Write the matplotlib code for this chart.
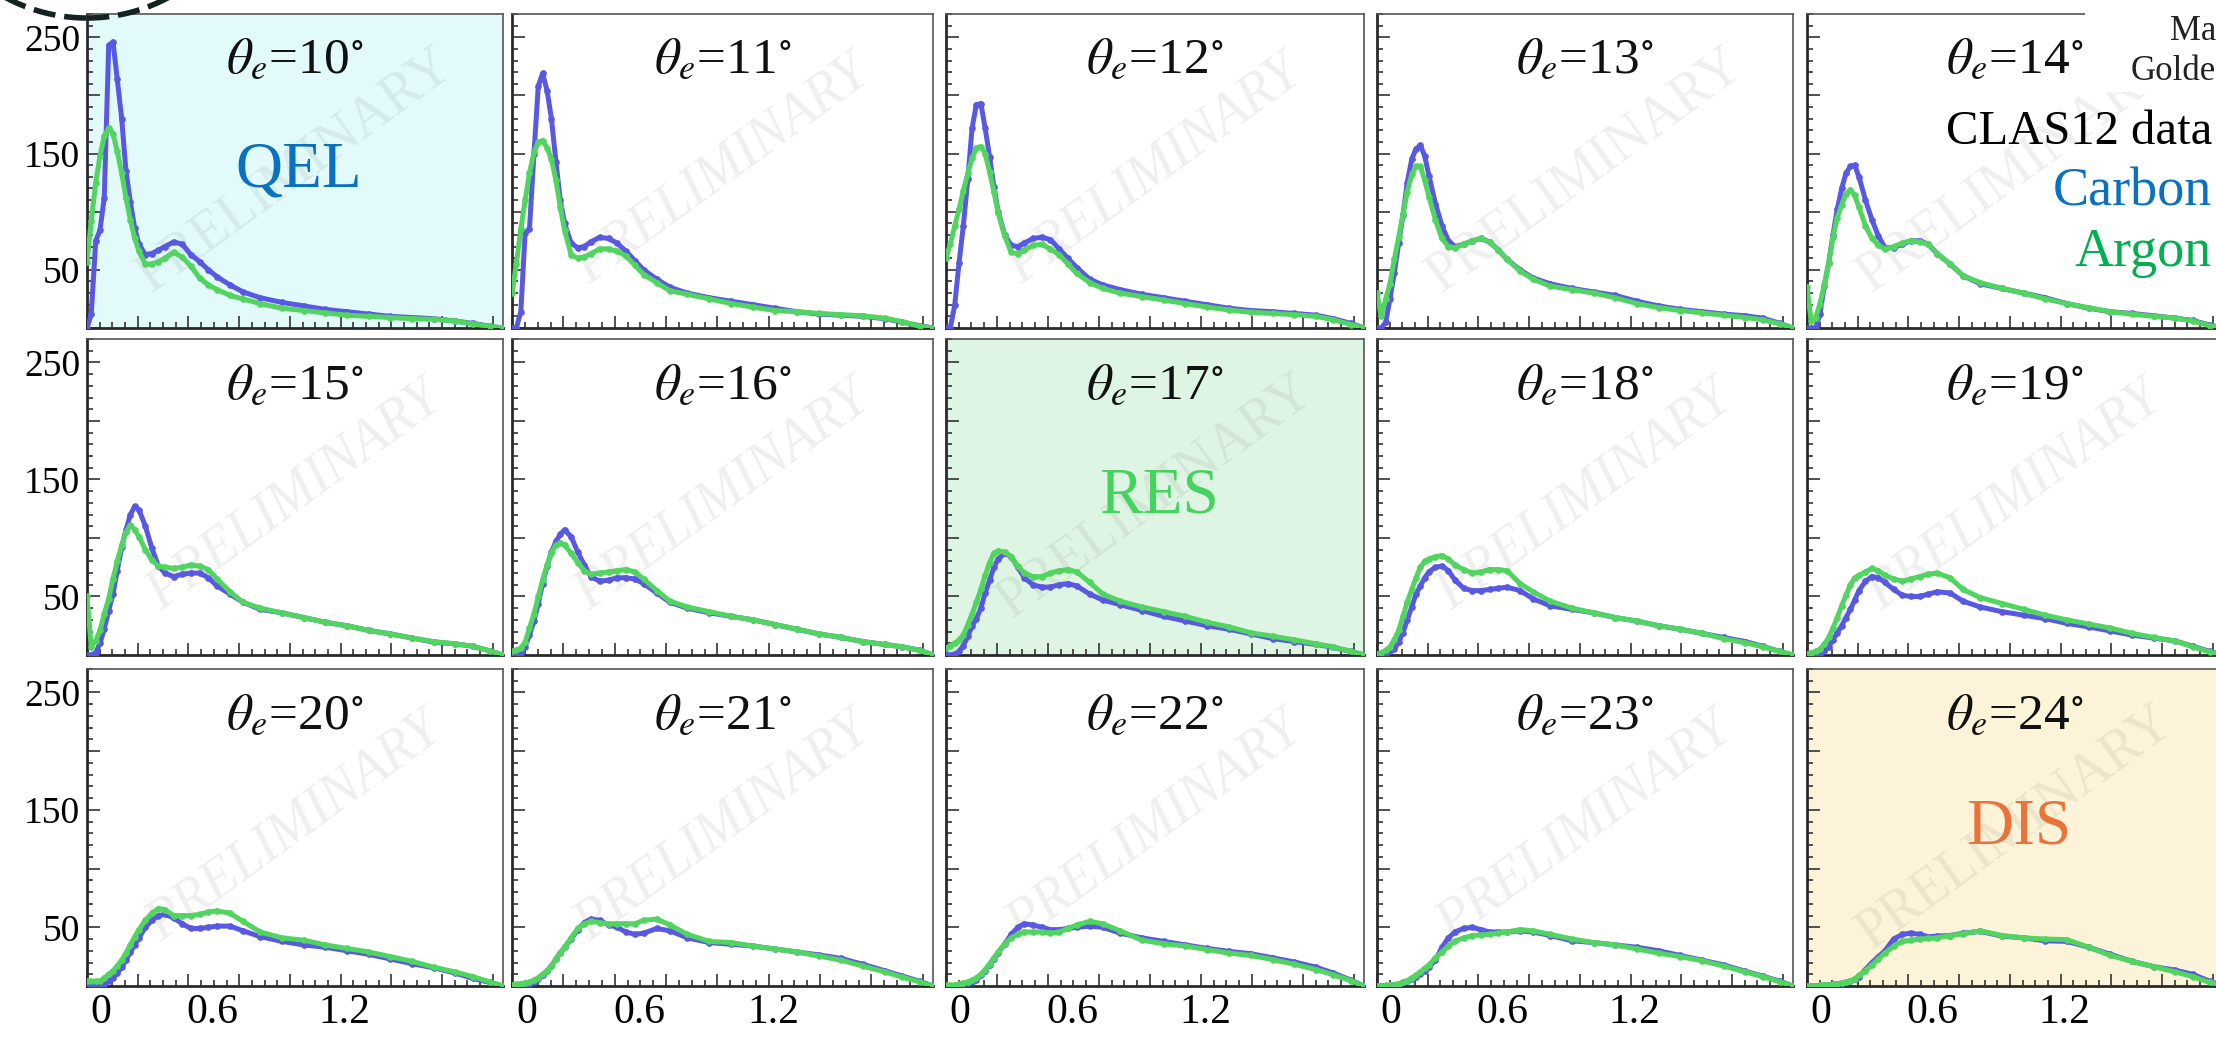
import matplotlib
matplotlib.use("Agg")
import matplotlib.pyplot as plt
import matplotlib.transforms as mtransforms
from matplotlib.patches import Ellipse, Rectangle
from matplotlib.ticker import MultipleLocator

plt.rcParams['font.family'] = ['Liberation Serif', 'DejaVu Serif']
plt.rcParams['mathtext.fontset'] = 'stix'

# energy transfer grid (GeV), shared by all panels
X = [0.0, 0.021, 0.043, 0.064, 0.085, 0.107, 0.128, 0.149, 0.171, 0.192, 0.214, 0.235, 0.256,
     0.288, 0.320, 0.352, 0.384, 0.427, 0.470, 0.512, 0.555, 0.598, 0.641, 0.705, 0.769, 0.854,
     0.961, 1.068, 1.174, 1.281, 1.388, 1.495, 1.602, 1.708, 1.815, 1.900, 1.986, 2.050]

ANGLES = [10, 11, 12, 13, 14, 15, 16, 17, 18, 19, 20, 21, 22, 23, 24]

# Carbon (C) and Argon (AR) yields per angle
C10 = [0, 12, 75, 84, 112, 243, 246, 214, 180, 135, 108, 86, 72, 63, 64, 67, 70, 74, 72, 63, 57, 50, 44, 37, 31, 26, 22, 19, 16, 14, 12, 10, 9, 8, 6, 4, 1.5, 0]
AR10 = [57, 92, 125, 148, 165, 172, 167, 152, 133, 112, 93, 77, 66, 55, 55, 57, 60, 65, 61, 53, 43, 37, 33, 28, 25, 21, 17, 15, 13, 11, 10, 9, 8, 7.5, 6, 3.5, 1.5, 0]
C11 = [0, 0, 14, 82, 85, 150, 208, 219, 204, 180, 143, 110, 90, 73, 69, 70, 74, 78, 77, 73, 66, 58, 50, 42, 35, 30, 26, 23, 20, 17, 14, 12, 11, 10, 8, 5, 2, 0]
AR11 = [30, 55, 85, 110, 133, 151, 160, 161, 155, 145, 127, 104, 84, 63, 60, 61, 64, 68, 68, 66, 62, 54, 46, 39, 32, 29, 25, 21, 18, 15, 14, 12.5, 11.5, 10.5, 8.5, 5.5, 1.5, 0]
C12 = [0, 0, 20, 56, 88, 128, 172, 192, 193, 172, 147, 121, 100, 80, 71, 70, 73, 77, 78, 76, 68, 60, 52, 42, 37, 33, 29, 26, 23, 20, 17, 15, 14, 12.5, 11, 8, 4, 0]
AR12 = [60, 72, 88, 102, 118, 133, 146, 155, 156, 150, 134, 117, 99, 79, 65, 64, 67, 71, 72, 68, 63, 55, 47, 39, 34, 30, 27, 24, 21, 18, 15.5, 13.5, 12.5, 11.5, 10, 7, 3, 0]
C13 = [0, 0, 5, 25, 47, 73, 97, 125, 145, 154, 157, 148, 131, 107, 88, 75, 70, 72, 75, 77, 74, 67, 59, 50, 43, 38, 34, 31, 28, 23, 19, 16, 14, 12, 10.5, 8.5, 4, 0]
AR13 = [30, 10, 25, 38, 59, 78, 98, 117, 132, 139, 139, 127, 113, 93, 77, 70, 69, 72, 75, 77, 74, 67, 59, 49, 42, 36, 33, 30, 26, 21, 17.5, 15, 13, 11, 9, 7, 3.5, 0]
C14 = [0, 0, 0, 12, 36, 56, 80, 102, 120, 133, 139, 140, 130, 110, 93, 79, 69, 69, 72, 75, 75, 72, 64, 55, 45, 38, 34, 30, 26, 21, 17, 14, 12.5, 10.5, 8.5, 6.5, 2.5, 0]
AR14 = [35, 6, 9, 21, 37, 56, 78, 95, 106, 115, 119, 114, 104, 88, 77, 71, 68, 70, 73, 75, 74, 72, 64, 55, 45, 39, 34, 30, 25, 21, 17.5, 14, 12, 10, 8.5, 6, 2, 0]
C15 = [0, 0, 2, 10, 22, 38, 52, 72, 92, 107, 120, 127, 124, 110, 91, 76, 70, 67, 69, 70, 70, 66, 59, 52, 45, 39, 36, 32, 28, 25, 21, 18, 14.5, 11, 9.5, 7.5, 3.5, 0]
AR15 = [50, 7, 12, 21, 35, 48, 65, 80, 94, 105, 111, 107, 101, 90, 81, 76, 75, 74, 75, 77, 76, 73, 65, 54, 45, 40, 36, 32, 28, 25, 21, 18, 14.5, 11.5, 9.5, 7.5, 3.5, 0]
C16 = [0, 0, 2, 7, 17, 29, 44, 61, 76, 88, 97, 103, 107, 101, 88, 77, 67, 63, 64, 66, 66, 65, 61, 53, 45, 40, 36, 33, 30, 26, 22, 18, 15, 11.5, 9, 7, 4, 0]
AR16 = [3, 4, 6, 11, 23, 35, 50, 64, 77, 87, 94, 96, 94, 87, 79, 72, 69, 70, 71, 72, 73, 71, 65, 55, 46, 41, 37, 33, 30, 26, 22, 18, 15, 11.5, 9, 7, 4, 0]
C17 = [0, 0, 1, 3, 8, 16, 25, 31, 40, 53, 64, 75, 82, 87, 84, 75, 66, 60, 58, 58, 60, 61, 59, 52, 47, 43, 38, 33, 29, 25, 22, 18, 14, 11.5, 9, 6.5, 3, 0]
AR17 = [6, 8, 10, 13, 17, 26, 35, 45, 56, 68, 79, 87, 89, 88, 84, 76, 70, 67, 67, 70, 72, 73, 71, 62, 52, 46, 41, 37, 33, 28, 24, 19, 16, 13, 9.5, 7, 3, 0]
C18 = [0, 0, 1, 3, 5, 11, 19, 30, 41, 52, 59, 66, 71, 75, 76, 72, 64, 57, 55, 55, 56, 57, 58, 55, 48, 42, 39, 36, 32, 29, 25, 22, 18.5, 15, 11.5, 7.5, 3, 0]
AR18 = [1, 2, 4, 7, 13, 21, 33, 45, 56, 66, 75, 80, 82, 84, 85, 82, 77, 73, 70, 71, 73, 73, 72, 61, 54, 46, 40, 36, 32, 29, 25, 22, 18.5, 14, 10.5, 7, 3, 0]
C19 = [0, 0, 0, 1, 3, 7, 13, 19, 25, 32, 39, 47, 55, 63, 67, 66, 62, 56, 51, 50, 50, 52, 54, 53, 46, 41, 37, 34, 31, 27, 24, 20.5, 17, 14.5, 12, 7.5, 3, 0]
AR19 = [1, 2, 3, 5, 9, 15, 23, 32, 42, 51, 60, 66, 68, 71, 74, 72, 68, 65, 63, 65, 67, 69, 70, 66, 56, 49, 44, 39, 34, 30, 26.5, 23, 18.5, 15, 12, 7, 2.5, 0]
C20 = [0, 0, 0, 1, 2, 4, 7, 11, 16, 22, 29, 35, 41, 50, 56, 60, 61, 58, 53, 49, 49, 50, 51, 51, 47, 42, 38, 35, 33, 30, 27, 23, 19, 15.5, 11, 6.5, 3, 0]
AR20 = [4, 4, 4, 4, 7, 10, 13, 17, 22, 28, 35, 42, 48, 56, 62, 66, 65, 60, 60, 60, 61, 63, 64, 62, 55, 46, 41, 39, 35, 32, 29, 25, 21, 16, 12, 8, 3.5, 0]
C21 = [0, 0, 1, 2, 2, 3, 6, 9, 13, 17, 23, 28, 33, 40, 48, 54, 57, 56, 52, 50, 46, 44, 45, 49, 47, 41, 37, 35.5, 34, 31.5, 29, 26.5, 23.5, 18.5, 13, 8.5, 4, 0]
AR21 = [1, 1.5, 2, 2.5, 3, 5, 7, 10, 13, 17, 23, 28, 33, 41, 49, 53, 55, 54, 53, 53, 53, 53, 56, 57, 52, 44, 38, 37, 34, 31.5, 29, 25.5, 22, 17, 12, 7.5, 3.5, 0]
C22 = [0, 0, 0, 1, 1.5, 2.5, 3.5, 5, 9, 13, 18, 23, 28, 36, 44, 50, 53, 52, 50, 48, 48, 49, 50, 51, 50, 45, 41, 38, 35, 32, 29.5, 27.5, 24, 20.5, 16, 11, 5, 0]
AR22 = [0.5, 0.5, 1, 1.5, 2.5, 3.5, 5, 7, 10, 14, 19, 24, 29, 36, 41, 44, 46, 46, 46, 45, 46, 49, 52, 55, 53, 47, 39, 36, 34, 31, 28, 26, 22.5, 18.5, 14, 9.5, 4.5, 0]
C23 = [0, 0, 0, 0.5, 1, 2, 3, 4, 6, 8, 10, 13, 16, 22, 33, 41, 46, 49, 50, 48, 46, 46, 46, 47, 46, 43, 38.5, 37, 35, 33, 30, 26, 22, 18, 12.5, 8.5, 4, 0]
AR23 = [0, 0, 0.5, 0.5, 1, 2, 3, 4.5, 7, 9, 12, 15, 18, 24, 29, 34, 38, 41, 43, 43.5, 44, 45, 46, 48, 47, 44, 40, 37, 35, 31.5, 28, 25, 21.5, 17, 12, 8, 3.5, 0]
C24 = [0, 0, 0, 0.5, 0.5, 1, 1.5, 2, 2.5, 3, 4, 6, 8, 14, 20, 25, 30, 40, 44, 45, 44, 42, 42.5, 43, 45, 46.5, 42.5, 41, 38.5, 38, 33, 27, 21, 16.5, 13.5, 10, 4, 0]
AR24 = [0, 0, 0, 0.5, 0.5, 1, 1.5, 2, 2.5, 3, 4.5, 6, 9, 13, 18, 23, 28, 34, 38, 39, 40, 40.5, 41, 43, 44.5, 47, 43, 41, 40, 39.5, 33, 26, 21, 16.5, 12, 8, 3, 0]

CARBON = [C10, C11, C12, C13, C14, C15, C16, C17, C18, C19, C20, C21, C22, C23, C24]
ARGON = [AR10, AR11, AR12, AR13, AR14, AR15, AR16, AR17, AR18, AR19, AR20, AR21, AR22, AR23, AR24]

XTICK_TEXT = ['0', '0.6', '1.2']
XTICK_AT = [0.07, 0.62, 1.27]
YTICKS = [0, 50, 100, 150, 200, 250]
YTICK_TEXT = ['', '50', '', '150', '', '250']

# highlighted panels: angle -> (background, label, label colour)
REGIONS = {10: ('#e2fafa', 'QEL', '#0a70c0'),
           17: ('#dff5e3', 'RES', '#45d35f'),
           24: ('#fdf3d8', 'DIS', '#e8743a')}

BLUE, GREEN = '#5858e2', '#52d460'

W, H = 2216, 1039
COL_LEFT = [87, 512, 946, 1377, 1807]
COL_W = [416, 421, 418, 416, 416]
ROW_TOP = [14, 339, 669]
ROW_BOT = [328, 655, 986]

fig = plt.figure(figsize=(W / 100, H / 100), dpi=100)

for i, ang in enumerate(ANGLES):
    r, c = divmod(i, 5)
    l, t, b = COL_LEFT[c], ROW_TOP[r], ROW_BOT[r]
    ax = fig.add_axes([l / W, 1 - b / H, COL_W[c] / W, (b - t) / H])
    upright = ang in (10, 13, 14, 17, 24)
    if ang in REGIONS:
        bg, lab, lc = REGIONS[ang]
        ax.set_facecolor(bg)
        ax.text(0.51, 0.5, lab, transform=ax.transAxes, ha='center', va='center',
                fontsize=47, color=lc, zorder=2)
    ax.plot(X, CARBON[i], color=BLUE, lw=3.6, marker='o', ms=4.8, mew=0, zorder=3,
            solid_capstyle='round', solid_joinstyle='round')
    ax.plot(X, ARGON[i], color=GREEN, lw=3.6, marker='o', ms=4.8, mew=0, zorder=4,
            solid_capstyle='round', solid_joinstyle='round')

    ax.text(0.5, 0.5, 'PRELIMINARY', transform=ax.transAxes, ha='center', va='center',
            rotation=36, fontsize=40, color='#808080', alpha=0.13, zorder=1,
            style='normal' if upright else 'italic')
    ax.text(0.5, 0.85, r'$\theta_e$' + f'={ang}' + r'$^{\circ}$', transform=ax.transAxes,
            ha='center', va='center', fontsize=37, color='#111111', zorder=5)

    ax.xaxis.set_major_locator(MultipleLocator(0.25))
    ax.xaxis.set_minor_locator(MultipleLocator(0.0625))
    ax.set_yticks(YTICKS)
    ax.yaxis.set_minor_locator(MultipleLocator(10))
    ax.set_xlim(0, 2.05)
    ax.set_ylim(0, 270)
    ax.tick_params(which='both', direction='in', top=False, right=False, color='#333333', width=1.2)
    ax.tick_params(which='major', length=9)
    ax.tick_params(which='minor', length=4.5)
    ax.set_xticklabels([])
    if c == 0:
        ax.set_yticklabels(YTICK_TEXT, fontsize=27)
        ax.tick_params(axis='y', pad=5)
    else:
        ax.set_yticklabels([])
    for s in ('left', 'bottom'):
        ax.spines[s].set_linewidth(2.0)
        ax.spines[s].set_color('#2a2a2a')
    for s in ('top', 'right'):
        ax.spines[s].set_linewidth(1.2)
        ax.spines[s].set_color('#555555')

    if r == 2:
        tr = mtransforms.blended_transform_factory(ax.transData, ax.transAxes)
        for pos, txt in zip(XTICK_AT, XTICK_TEXT):
            ax.text(pos, -0.085, txt, transform=tr, ha='center', va='center', fontsize=30)

# dashed circle peeking in at the top-left corner
fig.add_artist(Ellipse((87 / W, 1 + 154 / H), 2 * 172 / W, 2 * 172 / H, transform=fig.transFigure,
                       fill=False, edgecolor='#142222', lw=4, ls=(0, (4, 1.6)), zorder=10))

# white box with the cropped author note, and the legend
fig.add_artist(Rectangle((2085 / W, 1 - 92 / H), (W - 2085) / W, 92 / H, transform=fig.transFigure,
                         facecolor='white', edgecolor='none', zorder=8))
fig.text(2216 / W, 1 - 32 / H, 'Ma', ha='right', va='center', fontsize=25, color='#222222', zorder=9)
fig.text(2216 / W, 1 - 72 / H, 'Golde', ha='right', va='center', fontsize=25, color='#222222', zorder=9)
fig.text(2212 / W, 1 - 132 / H, 'CLAS12 data', ha='right', va='center', fontsize=35, color='black', zorder=9)
fig.text(2212 / W, 1 - 192 / H, 'Carbon', ha='right', va='center', fontsize=39, color='#0a70c0', zorder=9)
fig.text(2212 / W, 1 - 253 / H, 'Argon', ha='right', va='center', fontsize=39, color='#00b050', zorder=9)

fig.savefig('out.png', dpi=100)
